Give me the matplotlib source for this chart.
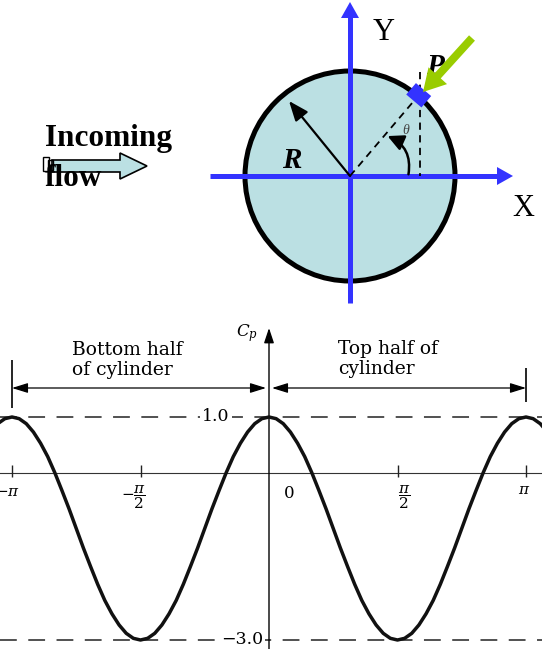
import numpy as np
import matplotlib
matplotlib.use("Agg")
import matplotlib.pyplot as plt
from matplotlib.patches import Circle, Polygon, FancyArrow, FancyArrowPatch, Rectangle

# ---------------------------------------------------------------- data
# pressure coefficient around the cylinder, sampled every 5 degrees
theta_deg = np.arange(-190, 195.1, 5)
cp = [0.88, 0.97, 1.00, 0.97, 0.88, 0.73, 0.53, 0.29, 0.00, -0.32, -0.65, -1.00,
      -1.35, -1.68, -2.00, -2.29, -2.53, -2.73, -2.88, -2.97, -3.00, -2.97, -2.88,
      -2.73, -2.53, -2.29, -2.00, -1.68, -1.35, -1.00, -0.65, -0.32, 0.00, 0.29,
      0.53, 0.73, 0.88, 0.97, 1.00,
      0.97, 0.88, 0.73, 0.53, 0.29, 0.00, -0.32, -0.65, -1.00, -1.35, -1.68, -2.00,
      -2.29, -2.53, -2.73, -2.88, -2.97, -3.00,
      -2.97, -2.88, -2.73, -2.53, -2.29, -2.00, -1.68, -1.35, -1.00, -0.65, -0.32,
      0.00, 0.29, 0.53, 0.73, 0.88, 0.97, 1.00,
      0.97, 0.88, 0.73]
cp_levels = [1.0, -3.0]
cp_level_labels = ["1.0", "\u22123.0"]
tick_pos = [-1.0, -0.5, 0.5, 1.0]          # in units of pi
tick_labels = [r"$-\pi$", r"$-\dfrac{\pi}{2}$", r"$\dfrac{\pi}{2}$", r"$\pi$"]
zero_label = "0"
half_labels = ["Bottom half\nof cylinder", "Top half of\ncylinder"]

# ---------------------------------------------------------------- figure
W, H = 542, 649
plt.rcParams["mathtext.fontset"] = "dejavuserif"
fig = plt.figure(figsize=(W / 100, H / 100), dpi=100)

# pixel-space axes for the cylinder sketch
axd = fig.add_axes([0, 0, 1, 1])
axd.set_xlim(0, W)
axd.set_ylim(H, 0)
axd.axis("off")

BLUE = "#3333ff"
FILL = "#bbe0e3"
GREEN = "#99cc00"
SERIF = "Liberation Serif"

C = (350.0, 176.0)
RAD = 105.0
P_ANG = np.deg2rad(49.6)

axd.add_patch(Circle(C, RAD, facecolor=FILL, edgecolor="black", lw=3.6, zorder=1))

# coordinate axes
axd.plot([210, 499], [C[1], C[1]], color=BLUE, lw=3.6, solid_capstyle="butt", zorder=3)
axd.add_patch(Polygon([(497, 167), (513, 176), (497, 185)], closed=True,
                      facecolor=BLUE, edgecolor="none", zorder=3))
axd.plot([C[0], C[0]], [303, 17], color=BLUE, lw=3.6, solid_capstyle="butt", zorder=3)
axd.add_patch(Polygon([(341, 18), (350, 2), (359, 18)], closed=True,
                      facecolor=BLUE, edgecolor="none", zorder=3))
axd.text(384, 33, "Y", family=SERIF, fontsize=22, ha="center", va="center")
xt = axd.text(523, 208, "X", family=SERIF, fontsize=22, ha="center", va="center")
xt.set_clip_path(Rectangle((0, 0), 525, 320, transform=axd.transData))

# radius arrow and label
axd.annotate("", xy=(289, 101), xytext=C,
             arrowprops=dict(arrowstyle="-|>,head_length=0.75,head_width=0.3",
                             mutation_scale=16, lw=1.6, color="black",
                             shrinkA=0, shrinkB=0), zorder=4)
axd.text(292, 160, "R", family=SERIF, fontsize=21, weight="bold", style="italic",
         ha="center", va="center", zorder=4)

# point P on the surface
px = C[0] + 106 * np.cos(P_ANG)
py = C[1] - 106 * np.sin(P_ANG)
axd.plot([C[0], px], [C[1], py], color="black", lw=1.3, dashes=(4, 3), zorder=4)
axd.plot([px + 1, px + 1], [72, C[1]], color="black", lw=1.3, dashes=(4, 3), zorder=4)
rad_u = np.array([np.cos(P_ANG), -np.sin(P_ANG)])
tan_u = np.array([np.sin(P_ANG), np.cos(P_ANG)])
ctr = np.array([px, py])
sq = [ctr + 10 * tan_u + 7.5 * rad_u, ctr + 10 * tan_u - 7.5 * rad_u,
      ctr - 10 * tan_u - 7.5 * rad_u, ctr - 10 * tan_u + 7.5 * rad_u]
axd.add_patch(Polygon(sq, closed=True, facecolor=BLUE, edgecolor="none", zorder=5))
axd.text(435, 66, "P", family=SERIF, fontsize=21, weight="bold", style="italic",
         ha="center", va="center", zorder=5)
axd.add_patch(FancyArrow(472, 38, -49, 54, width=8, head_width=25, head_length=22,
                         length_includes_head=True, facecolor=GREEN,
                         edgecolor="none", zorder=6))

# angle theta
axd.add_patch(FancyArrowPatch((408, 177), (385, 135), connectionstyle="arc3,rad=0.42",
                              arrowstyle="-|>,head_length=0.8,head_width=0.4",
                              mutation_scale=12, lw=1.8, color="black", zorder=4))
axd.text(406, 130, "\u03b8", family=SERIF, fontsize=10, style="italic",
         color="#444444", ha="center", va="center", zorder=4)

# incoming flow arrow and label
axd.add_patch(Polygon([(52, 160), (120, 160), (120, 153), (147, 166), (120, 179),
                       (120, 172), (52, 172)], closed=True, facecolor=FILL,
                      edgecolor="black", lw=1.2, zorder=2))
axd.add_patch(Rectangle((43, 157), 6, 14, fill=False, edgecolor="black", lw=1, zorder=2))
axd.add_patch(Rectangle((48, 160), 5, 10, fill=False, edgecolor="black", lw=1, zorder=2))
axd.text(45, 146, "Incoming", family=SERIF, fontsize=22.5, weight="bold",
         ha="left", va="baseline", zorder=3)
axd.text(45, 186, "flow", family=SERIF, fontsize=22.5, weight="bold",
         ha="left", va="baseline", zorder=3)

# ---------------------------------------------------------------- Cp chart
X0, SX = 269.0, 257.0      # pixel column of theta = 0, pixels per pi
Y1, SY = 417.0, 55.75      # pixel row of Cp = 1, pixels per unit Cp
TOP = 320
ax = fig.add_axes([0, 0, 1, (H - TOP) / H])
ax.set_xlim(-X0 / SX, (W - X0) / SX)
ax.set_ylim(1 - (H - Y1) / SY, 1 + (Y1 - TOP) / SY)
ax.axis("off")


def cx(p):
    return (p - X0) / SX


def cy(p):
    return 1 + (Y1 - p) / SY


CFONT = "DejaVu Serif"

ax.axhline(0, color="#333333", lw=0.8)
for lev, lab, lx in zip(cp_levels, cp_level_labels, [216, 242]):
    ax.axhline(lev, color="#222222", lw=1.1, dashes=(11, 7.5))
    ax.text(cx(lx), lev, lab, family=CFONT, fontsize=12.5, ha="center", va="center",
            bbox=dict(facecolor="white", edgecolor="none", pad=1.5))

ax.plot(theta_deg / 180.0, cp, color="#111111", lw=2.5, solid_joinstyle="round", zorder=5)

# Cp axis with arrow
ax.annotate("", xy=(0, cy(328)), xytext=(0, ax.get_ylim()[0]),
            arrowprops=dict(arrowstyle="-|>,head_length=0.75,head_width=0.25",
                            mutation_scale=12, lw=1.0, color="black",
                            shrinkA=0, shrinkB=0))
ax.text(cx(247), cy(333), r"$C_p$", fontsize=12, ha="center", va="center")

# ticks and labels
ax.vlines(tick_pos, cy(465), cy(477), color="#222222", lw=1.0)
ax.text(cx(20), cy(491), tick_labels[0], fontsize=11, ha="right", va="center")
ax.text(cx(134), cy(497), tick_labels[1], fontsize=11, ha="center", va="center")
ax.text(cx(404), cy(497), tick_labels[2], fontsize=11, ha="center", va="center")
ax.text(cx(524), cy(490), tick_labels[3], fontsize=11, ha="center", va="center")
ax.text(cx(289), cy(493), zero_label, family=CFONT, fontsize=12, ha="center", va="center")

# dimension lines for each half of the cylinder
arr = dict(arrowstyle="<|-|>,head_length=0.8,head_width=0.25", mutation_scale=12,
           lw=0.9, color="black", shrinkA=0, shrinkB=0)
ax.vlines(-1.0, cy(408), cy(360), color="black", lw=1.2)
ax.vlines(1.0, cy(402), cy(368), color="black", lw=1.2)
ax.annotate("", xy=(-1.0, cy(388)), xytext=(cx(266), cy(388)), arrowprops=arr)
ax.annotate("", xy=(cx(272), cy(388)), xytext=(1.0, cy(388)), arrowprops=arr)
ax.text(cx(72), cy(360), half_labels[0], family=CFONT, fontsize=13.5, ha="left",
        va="center", linespacing=1.15)
ax.text(cx(338), cy(359), half_labels[1], family=CFONT, fontsize=13.5, ha="left",
        va="center", linespacing=1.15)

fig.savefig("out.png", dpi=100)
